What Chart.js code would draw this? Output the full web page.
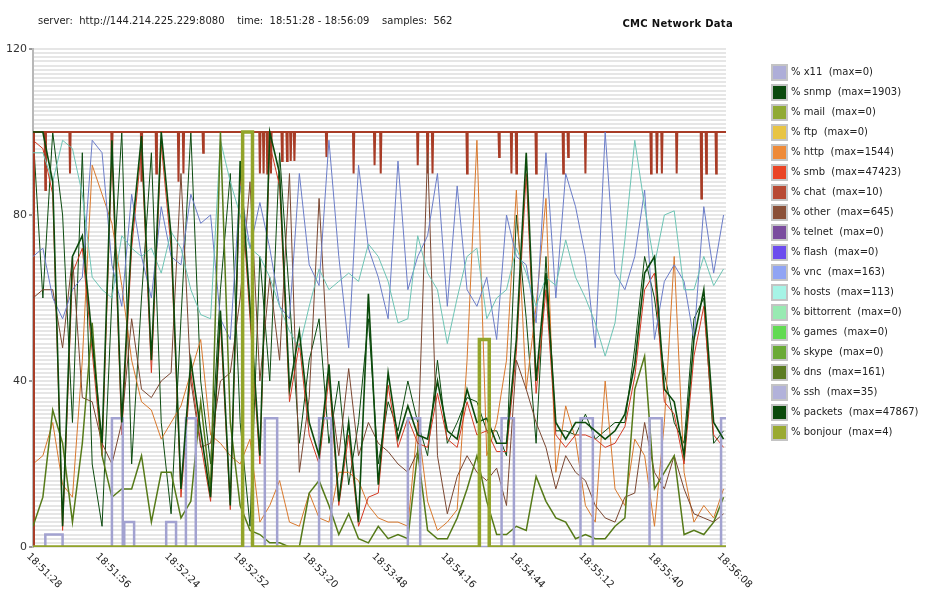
<!DOCTYPE html>
<html>
<head>
<meta charset="utf-8">
<script src="https://cdn.jsdelivr.net/npm/chart.js@4.4.1/dist/chart.umd.min.js"></script>
<style>
  body { margin: 0; background: #fff; font-family: "DejaVu Sans", sans-serif; }
  #marco { position: relative; width: 938px; height: 602px; overflow: hidden; }
  #grafica { position: absolute; left: 0; top: 0; }
  #cabecera { position: absolute; left: 38px; top: 15px; font-size: 10px; color: #222; white-space: pre; }
  #titulo { position: absolute; right: 205px; top: 18px; font-size: 10px; font-weight: bold; letter-spacing: .3px; color: #111; }
  #leyenda { position: absolute; left: 771px; top: 63px; font-size: 10px; color: #222; }
  .item { position: relative; height: 20px; width: 160px; }
  .caja { position: absolute; left: 0; top: 1px; width: 13px; height: 13px; border: 2px solid #c4c4c4; }
  .texto { position: absolute; left: 20px; top: 2px; line-height: 14px; white-space: pre; }
</style>
</head>
<body>
<div id="marco">
  <canvas id="grafica" width="938" height="602"></canvas>
  <div id="cabecera">server:  http://144.214.225.229:8080    time:  18:51:28 - 18:56:09    samples:  562</div>
  <div id="titulo">CMC Network Data</div>
  <div id="leyenda"></div>
</div>
<script>
// segundos desde 18:51:28, una muestra cada 4 s
const segundos = [
  0, 4, 8, 12, 16, 20, 24,
  28, 32, 36, 40, 44, 48, 52,
  56, 60, 64, 68, 72, 76, 80,
  84, 88, 92, 96, 100, 104, 108,
  112, 116, 120, 124, 128, 132, 136,
  140, 144, 148, 152, 156, 160, 164,
  168, 172, 176, 180, 184, 188, 192,
  196, 200, 204, 208, 212, 216, 220,
  224, 228, 232, 236, 240, 244, 248,
  252, 256, 260, 264, 268, 272, 276,
  280
];

const segTicks = [0, 28, 56, 84, 112, 140, 168, 196, 224, 252, 280];
const etiquetasX = ['18:51:28', '18:51:56', '18:52:24', '18:52:52', '18:53:20', '18:53:48',
                    '18:54:16', '18:54:44', '18:55:12', '18:55:40', '18:56:08'];

const vnc = [
  70, 72, 60, 55, 62, 65, 98,
  95, 68, 58, 85, 70, 60, 82,
  70, 68, 85, 78, 80, 55, 50,
  87, 72, 83, 72, 58, 55, 90,
  68, 63, 98, 70, 48, 92, 72,
  65, 55, 93, 62, 70, 75, 90,
  58, 87, 62, 58, 65, 50, 80,
  70, 68, 54, 95, 60, 90, 82,
  70, 48, 100, 66, 62, 70, 86,
  50, 64, 68, 64, 50, 82, 66,
  80
];

const hosts = [
  95, 95, 88, 98, 96, 85, 65,
  62, 60, 75, 72, 70, 72, 66,
  76, 72, 62, 56, 55, 98, 88,
  80, 72, 70, 65, 58, 52, 48,
  58, 67, 62, 64, 66, 64, 73,
  70, 64, 54, 55, 75, 66, 62,
  49, 60, 70, 72, 55, 60, 62,
  72, 66, 58, 65, 63, 74, 65,
  60, 54, 46, 54, 74, 98, 82,
  68, 80, 81, 62, 62, 70, 63,
  67
];

const other = [
  60, 62, 62, 48, 70, 36, 35,
  25, 20, 30, 55, 38, 36, 40,
  42, 90, 40, 24, 25, 40, 42,
  60, 88, 40, 65, 45, 90, 18,
  36, 84, 40, 22, 43, 22, 30,
  25, 23, 20, 18, 23, 95, 22,
  8, 17, 22, 18, 16, 19, 10,
  45, 38, 30, 24, 14, 22, 18,
  16, 10, 7, 6, 12, 13, 30,
  18, 14, 22, 14, 8, 7, 6,
  8
];

const http = [
  20, 22, 30, 15, 12, 45, 92,
  85, 78, 63, 45, 35, 33, 26,
  30, 34, 42, 50, 27, 25, 22,
  20, 26, 6, 10, 16, 6, 5,
  13, 7, 6, 18, 18, 16, 10,
  7, 6, 6, 5, 30, 11, 4,
  6, 9, 45, 98, 22, 30, 45,
  86, 38, 58, 84, 18, 34, 26,
  10, 6, 40, 14, 10, 26, 22,
  5, 30, 70, 18, 6, 10, 7,
  14
];

const packets = [
  100, 100, 88, 5, 70, 75, 50,
  25, 98, 30, 75, 99, 45, 100,
  75, 14, 45, 28, 12, 57, 10,
  93, 58, 22, 100, 90, 38, 52,
  30, 22, 44, 11, 30, 6, 61,
  15, 42, 26, 34, 27, 26, 40,
  28, 26, 38, 30, 31, 25, 25,
  50, 95, 40, 66, 30, 26, 30,
  30, 28, 26, 28, 32, 44, 66,
  70, 38, 35, 22, 50, 62, 30,
  26
];

const snmp = [
  100, 60, 100, 80, 30, 95, 20,
  5, 60, 100, 20, 60, 95, 30,
  8, 55, 100, 40, 20, 62, 90,
  30, 5, 70, 40, 95, 60, 25,
  45, 55, 25, 40, 15, 30, 55,
  20, 35, 28, 40, 30, 22, 45,
  25, 30, 36, 35, 28, 28, 22,
  80, 55, 25, 70, 28, 28, 27,
  32, 26, 28, 30, 30, 48, 70,
  60, 42, 30, 25, 55, 60, 25,
  28
];

const smb = [
  98, 96, 85, 4, 66, 72, 47,
  22, 95, 27, 72, 96, 42, 97,
  72, 12, 42, 25, 11, 54, 9,
  90, 55, 20, 97, 87, 35, 49,
  27, 20, 41, 10, 27, 5, 12,
  13, 39, 24, 31, 25, 24, 37,
  26, 24, 35, 27, 28, 23, 23,
  47, 90, 37, 62, 27, 24, 27,
  27, 26, 24, 25, 29, 41, 62,
  66, 35, 32, 20, 46, 58, 27,
  24
];

const dns = [
  5, 12, 33, 25, 6, 25, 54,
  22, 12, 14, 14, 22, 6, 18,
  18, 7, 11, 35, 14, 100, 30,
  10, 4, 3, 1, 1, 0, 0,
  13, 16, 10, 3, 8, 2, 1,
  5, 2, 3, 2, 23, 4, 2,
  2, 7, 14, 22, 11, 3, 3,
  5, 4, 17, 11, 7, 6, 2,
  3, 2, 2, 5, 7, 38, 46,
  14, 18, 22, 3, 4, 3, 6,
  12
];

// chat: al 100 % salvo caídas cortas (segundo, valor)
const chatDipSeg = [5, 15, 32, 44, 50, 59, 61, 69, 92, 93.5, 95, 96.5, 101, 103, 104.5, 106,
                    119, 130, 138.5, 141, 156, 160, 162, 176, 189, 194, 196, 204, 215, 217, 224,
                    250.6, 253, 255, 261, 271, 273, 277];
const chatDipVal = [86, 90, 92, 88, 90, 88, 90, 95, 90, 90, 90, 90, 93, 93, 93, 93,
                    94, 90, 92, 90, 92, 90, 90, 90, 94, 90, 90, 90, 90, 94, 90,
                    90, 90, 90, 90, 84, 90, 90];

// ssh y bonjour van a escalones: segundo del cambio y nuevo valor
const sshSeg = [0, 5, 12, 32, 36.4, 37, 41, 54, 58, 62, 66, 94, 99, 116, 121, 152, 157, 190, 195, 222, 227, 250, 255, 279, 281];
const sshVal = [0, 3, 0, 31, 0, 6, 0, 6, 0, 31, 0, 31, 0, 31, 0, 31, 0, 31, 0, 31, 0, 31, 0, 31, 31];
const bonjourSeg = [0, 85, 89, 181, 185, 281];
const bonjourVal = [0, 100, 0, 50, 0, 0];

// series sin tráfico (max=0)
const nulosSeg = [0, 281];
const nulosVal = [0, 0];

const pares = (ts, vs) => ts.map((t, i) => ({ x: t, y: vs[i] }));

// cada caída dura una muestra (0.5 s) y vuelve al 100
function serieChat() {
  const pts = [{ x: 0, y: 0 }, { x: 0.4, y: 100 }];
  chatDipSeg.forEach((t, i) => {
    pts.push({ x: t - 0.25, y: 100 }, { x: t, y: chatDipVal[i] }, { x: t + 0.25, y: 100 });
  });
  pts.push({ x: 281, y: 100 });
  return pts;
}

const nulos = pares(nulosSeg, nulosVal);

const series = [
  { nombre: 'x11',        max: 0,     caja: '#aeaed8', linea: '#aeaed8', ancho: 1,   datos: nulos },
  { nombre: 'snmp',       max: 1903,  caja: '#0b4a0e', linea: '#0b4a0e', ancho: 1,   datos: pares(segundos, snmp) },
  { nombre: 'mail',       max: 0,     caja: '#90aa34', linea: '#90aa34', ancho: 1,   datos: nulos },
  { nombre: 'ftp',        max: 0,     caja: '#e8c444', linea: '#e8c444', ancho: 1,   datos: nulos },
  { nombre: 'http',       max: 1544,  caja: '#ee8a38', linea: '#d8782c', ancho: 1,   datos: pares(segundos, http) },
  { nombre: 'smb',        max: 47423, caja: '#ea4424', linea: '#d43a22', ancho: 1,   datos: pares(segundos, smb) },
  { nombre: 'chat',       max: 10,    caja: '#b84a34', linea: '#a83c26', ancho: 2,   datos: serieChat() },
  { nombre: 'other',      max: 645,   caja: '#8a5038', linea: '#7a4630', ancho: 1,   datos: pares(segundos, other) },
  { nombre: 'telnet',     max: 0,     caja: '#7a4c9e', linea: '#7a4c9e', ancho: 1,   datos: nulos },
  { nombre: 'flash',      max: 0,     caja: '#6c4cee', linea: '#6c4cee', ancho: 1,   datos: nulos },
  { nombre: 'vnc',        max: 163,   caja: '#90a4f4', linea: '#6a7cc8', ancho: 1,   datos: pares(segundos, vnc) },
  { nombre: 'hosts',      max: 113,   caja: '#a6f4e6', linea: '#6cc4b4', ancho: 1,   datos: pares(segundos, hosts) },
  { nombre: 'bittorrent', max: 0,     caja: '#98eab2', linea: '#98eab2', ancho: 1,   datos: nulos },
  { nombre: 'games',      max: 0,     caja: '#62da52', linea: '#62da52', ancho: 1,   datos: nulos },
  { nombre: 'skype',      max: 0,     caja: '#6aaa36', linea: '#6aaa36', ancho: 1,   datos: nulos },
  { nombre: 'dns',        max: 161,   caja: '#5c7c22', linea: '#557a18', ancho: 1.5, datos: pares(segundos, dns) },
  { nombre: 'ssh',        max: 35,    caja: '#b2b2da', linea: '#a2a2d0', ancho: 2.5, datos: pares(sshSeg, sshVal), escalon: true },
  { nombre: 'packets',    max: 47867, caja: '#0b4a0b', linea: '#0b4a0b', ancho: 1.6, datos: pares(segundos, packets) },
  { nombre: 'bonjour',    max: 4,     caja: '#9aaa32', linea: '#92a42a', ancho: 3.5, datos: pares(bonjourSeg, bonjourVal), escalon: true },
];

// Leyenda a la derecha
document.getElementById('leyenda').innerHTML = series.map(s =>
  `<div class="item"><div class="caja" style="background:${s.caja}"></div><div class="texto">% ${s.nombre}  (max=${s.max})</div></div>`
).join('');

// Etiquetas del eje X giradas 45° hacia abajo-derecha
const etiquetasEje = {
  id: 'etiquetasEje',
  afterDraw(chart) {
    const { ctx, chartArea } = chart;
    const x = chart.scales.x;
    ctx.save();
    ctx.font = '10px "DejaVu Sans"';
    ctx.fillStyle = '#222';
    ctx.textBaseline = 'middle';
    ctx.textAlign = 'left';
    segTicks.forEach((s, i) => {
      const px = x.getPixelForValue(s);
      ctx.save();
      ctx.translate(px - 5, chartArea.bottom + 8);
      ctx.rotate(Math.PI / 4);
      ctx.fillText(etiquetasX[i], 0, 0);
      ctx.restore();
    });
    ctx.restore();
  }
};

new Chart(document.getElementById('grafica'), {
  type: 'line',
  data: {
    datasets: series.map((s, i) => ({
      label: s.nombre,
      data: s.datos,
      borderColor: s.linea,
      backgroundColor: s.linea,
      borderWidth: s.ancho,
      pointRadius: 0,
      tension: 0,
      fill: false,
      stepped: s.escalon ? 'before' : false,
      order: series.length - i,
    })),
  },
  options: {
    responsive: false,
    devicePixelRatio: 1,
    animation: false,
    layout: { padding: { left: 0, top: 49, right: 212, bottom: 0 } },
    plugins: { legend: { display: false }, tooltip: { enabled: false } },
    scales: {
      x: {
        type: 'linear', min: 0, max: 281,
        afterFit(s) { s.height = 55; },
        ticks: { display: false },
        grid: { display: false },
        border: { display: false },
      },
      y: {
        min: 0, max: 120,
        afterFit(s) { s.width = 33; },
        ticks: {
          stepSize: 1, autoSkip: false, maxTicksLimit: 200, padding: 2,
          color: '#333', font: { size: 11, family: 'DejaVu Sans' },
          callback: v => v % 40 === 0 ? v : '',
        },
        grid: {
          color: '#e6e6e6', lineWidth: 2, tickLength: 4,
          tickColor: c => (c.tick && c.tick.value % 40 === 0) ? '#999' : 'rgba(0,0,0,0)',
        },
        border: { color: '#b8b8b8', width: 2 },
      },
    },
  },
  plugins: [etiquetasEje],
});
</script>
</body>
</html>
